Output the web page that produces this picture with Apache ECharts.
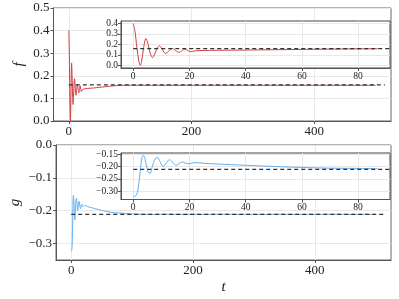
<!DOCTYPE html>
<html><head><meta charset="utf-8">
<script src="https://cdn.jsdelivr.net/npm/echarts@6/dist/echarts.min.js"></script>
<style>html,body{margin:0;padding:0;background:#fff}#c{width:399px;height:299px}</style>
</head><body><div id="c"></div>
<script>
// ---- data ----
const tF = [0, 0.6, 1.3, 2.0, 2.5, 3.0, 3.7, 4.5, 5.3, 6.1, 6.9, 7.7, 8.5, 9.3, 10.2, 10.9, 11.6, 12.6, 13.9, 15.1, 16.3, 17.4, 18.4, 19.4, 20.4, 22, 25, 30, 40, 50, 60, 70, 80, 87, 100, 120, 150, 200, 300, 400, 500];
const fVals = [0.400, 0.330, 0.170, 0.040, 0.000, 0.040, 0.170, 0.257, 0.200, 0.110, 0.073, 0.110, 0.165, 0.187, 0.160, 0.125, 0.114, 0.135, 0.162, 0.140, 0.124, 0.140, 0.156, 0.142, 0.130, 0.138, 0.142, 0.144, 0.146, 0.149, 0.152, 0.155, 0.157, 0.158, 0.158, 0.158, 0.158, 0.158, 0.158, 0.158, 0.158];
const tG = [0, 0.5, 1.0, 1.5, 2.0, 2.6, 3.1, 3.6, 4.1, 4.6, 5.3, 6.0, 6.8, 7.7, 8.6, 9.6, 10.6, 11.7, 12.9, 14.1, 15.3, 16.5, 17.6, 18.6, 19.6, 21, 22.3, 25, 30, 40, 50, 60, 70, 80, 87, 100, 130, 200, 300, 400, 500];
const gVals = [-0.323, -0.322, -0.318, -0.305, -0.270, -0.205, -0.163, -0.153, -0.163, -0.190, -0.222, -0.228, -0.200, -0.168, -0.162, -0.180, -0.200, -0.185, -0.171, -0.183, -0.194, -0.186, -0.180, -0.185, -0.188, -0.185, -0.183, -0.186, -0.189, -0.194, -0.199, -0.203, -0.206, -0.207, -0.208, -0.210, -0.211, -0.211, -0.211, -0.211, -0.211];
const fEq = 0.16;
const gEq = -0.211;
const mainXTicks = [0, 200, 400];
const insetXTicks = [0, 20, 40, 60, 80];
const fMainTicks = [0, 0.1, 0.2, 0.3, 0.4, 0.5];
const gMainTicks = [-0.3, -0.2, -0.1, 0];
const fInsetTicks = [0, 0.1, 0.2, 0.3, 0.4];
const gInsetTicks = [-0.30, -0.25, -0.20, -0.15];
const insetTMax = 87;

// ---- build ----
const FONT = 'Liberation Serif';
const RED = '#d23c3c', BLUE = '#62b0f2', DASH = '#333333';
const zip = (t, v) => t.map((x, i) => [x, v[i]]);
const insetPts = (t, v) => zip(t, v).filter(p => p[0] <= insetTMax);
const fmt = d => v => (v < -1e-9 ? '\u2212' : '') + Math.abs(v).toFixed(d);

function axis(gridIndex, opts, fs, custom, d, z) {
  const a = Object.assign({
    type: 'value', gridIndex, z,
    nameMoveOverlap: false,
    axisLine: {show: true, onZero: false, lineStyle: {color: '#555', width: 1}},
    axisTick: {show: true, length: 3, lineStyle: {color: '#555'}, customValues: custom},
    axisLabel: {fontFamily: FONT, fontSize: fs, color: '#222', margin: fs > 11 ? 4 : 3,
      customValues: custom, formatter: d == null ? (v => String(v)) : fmt(d)},
    splitLine: {show: true, lineStyle: {color: '#e8e8e8', width: 1}}
  }, opts);
  return a;
}

const nameStyle = {fontFamily: FONT, fontStyle: 'italic', fontSize: 15, color: '#222'};
const option = {
  animation: false,
  backgroundColor: '#fff',
  grid: [
    {left: 53.5, top: 8, width: 337.5, height: 113, show: true, borderColor: '#666', borderWidth: 1, z: 0},
    {left: 53.5, top: 145, width: 337.5, height: 115, show: true, borderColor: '#666', borderWidth: 1, z: 0},
    {left: 121, top: 21, width: 269, height: 47, show: true, borderColor: '#444', borderWidth: 1, backgroundColor: '#fff', z: 3},
    {left: 121, top: 153, width: 269, height: 46.5, show: true, borderColor: '#444', borderWidth: 1, backgroundColor: '#fff', z: 3}
  ],
  xAxis: [
    axis(0, {min: -25, max: 525}, 13, mainXTicks, null, 0),
    axis(1, {min: -25, max: 525, name: 't', nameLocation: 'middle', nameGap: 20, nameTextStyle: nameStyle}, 13, mainXTicks, null, 0),
    axis(2, {min: -4.35, max: 91.35}, 9.5, insetXTicks, null, 4),
    axis(3, {min: -4.35, max: 91.35}, 9.5, insetXTicks, null, 4)
  ],
  yAxis: [
    axis(0, {min: 0, max: 0.5, name: 'f', nameLocation: 'middle', nameGap: 27, nameRotate: 90, nameTextStyle: nameStyle}, 13, fMainTicks, 1, 0),
    axis(1, {min: -0.35, max: 0, name: 'g', nameLocation: 'middle', nameGap: 33, nameRotate: 90, nameTextStyle: nameStyle}, 13, gMainTicks, 1, 0),
    axis(2, {min: -0.026, max: 0.424}, 9.5, fInsetTicks, 1, 4),
    axis(3, {min: -0.335, max: -0.1435}, 9.5, gInsetTicks, 2, 4)
  ],
  series: [
    {type: 'line', xAxisIndex: 0, yAxisIndex: 0, data: zip(tF, fVals), showSymbol: false, smooth: 0.3, z: 2,
      lineStyle: {color: RED, width: 1}},
    {type: 'line', xAxisIndex: 0, yAxisIndex: 0, data: [[0, fEq], [515, fEq]], showSymbol: false, z: 2.5,
      lineStyle: {color: DASH, width: 1.2, type: [4, 3]}},
    {type: 'line', xAxisIndex: 1, yAxisIndex: 1, data: zip(tG, gVals), showSymbol: false, smooth: 0.3, z: 2,
      lineStyle: {color: BLUE, width: 1}},
    {type: 'line', xAxisIndex: 1, yAxisIndex: 1, data: [[0, gEq], [515, gEq]], showSymbol: false, z: 2.5,
      lineStyle: {color: DASH, width: 1.2, type: [4, 3]}},
    {type: 'line', xAxisIndex: 2, yAxisIndex: 2, data: insetPts(tF, fVals), showSymbol: false, smooth: 0.3, z: 5,
      lineStyle: {color: RED, width: 1}},
    {type: 'line', xAxisIndex: 2, yAxisIndex: 2, data: [[0, fEq], [91.35, fEq]], showSymbol: false, z: 5.5,
      lineStyle: {color: DASH, width: 1.2, type: [4, 3]}},
    {type: 'line', xAxisIndex: 3, yAxisIndex: 3, data: insetPts(tG, gVals), showSymbol: false, smooth: 0.3, z: 5,
      lineStyle: {color: BLUE, width: 1}},
    {type: 'line', xAxisIndex: 3, yAxisIndex: 3, data: [[0, gEq], [91.35, gEq]], showSymbol: false, z: 5.5,
      lineStyle: {color: DASH, width: 1.2, type: [4, 3]}}
  ]
};
const chart = echarts.init(document.getElementById('c'), null, {renderer: 'canvas'});
chart.setOption(option);
</script></body></html>
